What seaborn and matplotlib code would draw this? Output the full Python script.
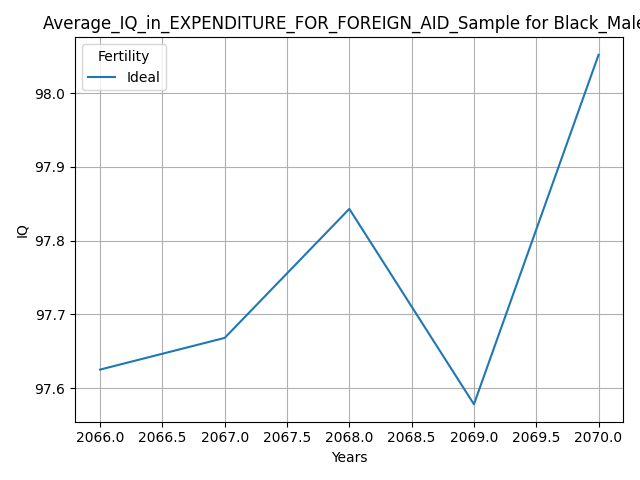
import pandas as pd
import seaborn as sns
import matplotlib.pyplot as plt

years = [2066, 2067, 2068, 2069, 2070]
iq = [97.625, 97.668, 97.843, 97.578, 98.052]
fertility = ['Ideal'] * 5

df = pd.DataFrame({'Years': years, 'IQ': iq, 'Fertility': fertility})

fig, ax = plt.subplots(figsize=(6.4, 4.8), dpi=100)
sns.lineplot(data=df, x='Years', y='IQ', hue='Fertility', ax=ax)
ax.grid(True)
ax.set_title('Average_IQ_in_EXPENDITURE_FOR_FOREIGN_AID_Sample for Black_Males')
ax.legend(title='Fertility', loc='upper left')
plt.tight_layout()
plt.savefig('out.png')
